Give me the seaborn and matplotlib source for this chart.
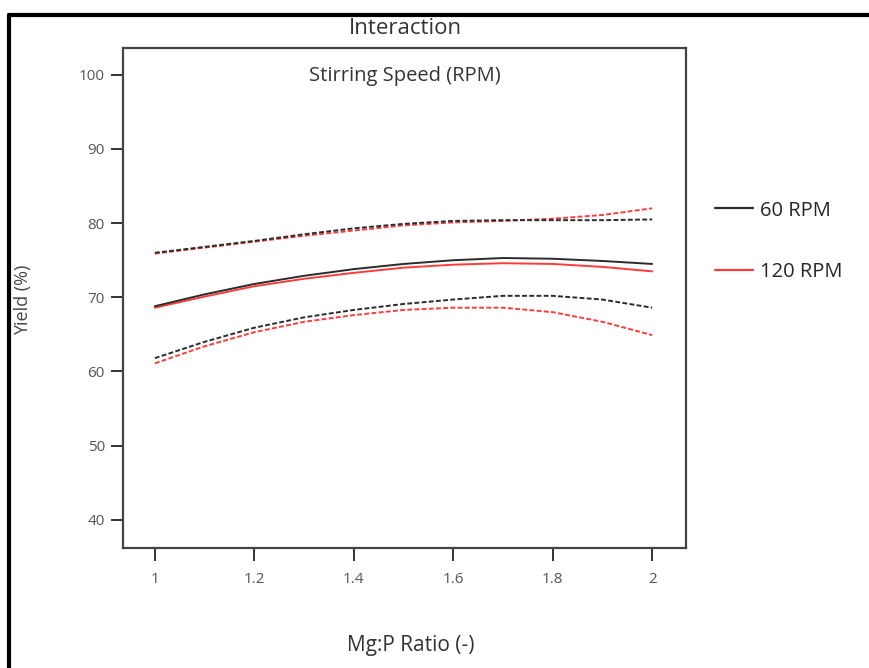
import pandas as pd
import seaborn as sns
import matplotlib.pyplot as plt
from matplotlib.lines import Line2D

ratio = [1.0, 1.1, 1.2, 1.3, 1.4, 1.5, 1.6, 1.7, 1.8, 1.9, 2.0]

# 60 RPM: predicted mean and its interval
mean_60 = [68.8, 70.4, 71.8, 72.9, 73.8, 74.5, 75.0, 75.3, 75.2, 74.9, 74.5]
upper_60 = [76.0, 76.8, 77.6, 78.5, 79.3, 79.9, 80.3, 80.4, 80.4, 80.4, 80.5]
lower_60 = [61.8, 64.0, 65.9, 67.3, 68.3, 69.1, 69.7, 70.2, 70.2, 69.7, 68.6]

# 120 RPM
mean_120 = [68.6, 70.1, 71.5, 72.5, 73.3, 74.0, 74.4, 74.6, 74.5, 74.1, 73.5]
upper_120 = [75.9, 76.7, 77.5, 78.3, 79.0, 79.7, 80.1, 80.3, 80.6, 81.1, 82.0]
lower_120 = [61.1, 63.4, 65.3, 66.7, 67.6, 68.3, 68.6, 68.6, 68.0, 66.7, 64.9]

speeds = ["60 RPM", "120 RPM"]
colors = {"60 RPM": "#2b2b2b", "120 RPM": "#ff3b3b"}

rows = []
for speed, m, u, l in [("60 RPM", mean_60, upper_60, lower_60),
                       ("120 RPM", mean_120, upper_120, lower_120)]:
    for band, vals in [("mean", m), ("upper", u), ("lower", l)]:
        for x, y in zip(ratio, vals):
            rows.append({"ratio": x, "yield": y, "speed": speed, "band": band})
df = pd.DataFrame(rows)

sns.set_style("white")
plt.rcParams["font.family"] = ["Open Sans", "DejaVu Sans"]

fig = plt.figure(figsize=(8.7, 6.68), dpi=100)
ax = fig.add_axes([0.1414, 0.1796, 0.6471, 0.7484])

sns.lineplot(data=df, x="ratio", y="yield", hue="speed", style="band",
             hue_order=speeds[::-1], palette=colors,
             dashes={"mean": "", "upper": (2.5, 1.2), "lower": (2.5, 1.2)},
             linewidth=1.4, legend=False, ax=ax)

ax.set_xlim(0.936, 2.068)
ax.set_ylim(36.2, 103.6)
ax.set_xticks([1, 1.2, 1.4, 1.6, 1.8, 2])
ax.set_xticklabels(["1", "1.2", "1.4", "1.6", "1.8", "2"])
ax.set_yticks([40, 50, 60, 70, 80, 90, 100])
ax.tick_params(axis="both", direction="out", length=9, width=1.4,
               color="#333333", labelcolor="#555555", labelsize=11,
               bottom=True, left=True)
ax.tick_params(axis="y", pad=4)
ax.tick_params(axis="x", pad=8)
for s in ax.spines.values():
    s.set_color("#444444")
    s.set_linewidth(1.6)

ax.set_xlabel("")
ax.set_ylabel("")
fig.text(0.472, 0.033, "Mg:P Ratio (-)", ha="center", va="center",
         fontsize=15, color="#333333")
fig.text(0.026, 0.551, "Yield (%)", ha="center", va="center", rotation=90,
         fontsize=13, color="#444444")
fig.text(0.466, 0.957, "Interaction", ha="center", va="center",
         fontsize=16, color="#333333")
ax.text(0.5, 0.965, "Stirring Speed (RPM)", transform=ax.transAxes,
        ha="center", va="top", fontsize=14.5, color="#333333")

handles = [Line2D([], [], color=colors[s], lw=1.6) for s in speeds]
fig.legend(handles, speeds, loc="center left", bbox_to_anchor=(0.801, 0.639),
           frameon=False, fontsize=14.5, handlelength=1.9, handletextpad=0.35,
           labelspacing=2.05)

# outer frame of the original figure (top and left edges)
fig.add_artist(Line2D([0.0103, 1.0], [0.977, 0.977], color="black", lw=3,
                      transform=fig.transFigure))
fig.add_artist(Line2D([0.0103, 0.0103], [0.0, 0.977], color="black", lw=3,
                      transform=fig.transFigure))

fig.savefig("out.png", dpi=100, facecolor="white")
